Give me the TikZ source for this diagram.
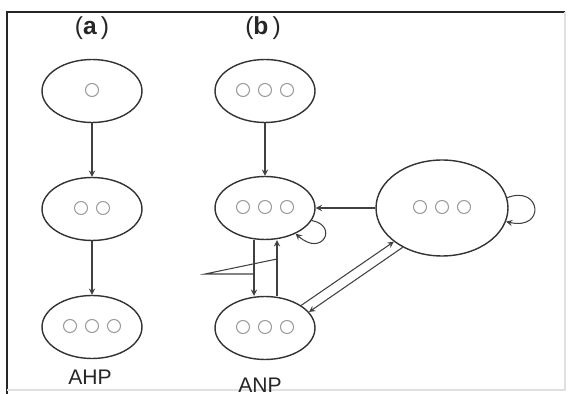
\documentclass[tikz,border=0pt]{standalone}
\usepackage{fontspec}
\setmainfont{Liberation Sans}
\usetikzlibrary{shapes,arrows,calc}

\tikzset{
  state/.style={draw=black!80, line width=0.8pt, ellipse, minimum width=2cm, minimum height=1.26cm, inner sep=0pt},
  bigstate/.style={state, minimum width=2.64cm, minimum height=1.92cm},
  link/.style={draw=black!75, line width=0.6pt},
  dot/.style={draw=black!40, line width=0.6pt},
  caption/.style={text=black!85, font=\fontsize{12}{14}\selectfont},
}

\begin{document}
\begin{tikzpicture}[>=stealth, x=0.02cm, y=-0.02cm]
  \useasboundingbox (0,0) rectangle (574,394);
  % Frame
  \draw[black!85, line width=0.8pt] (7,394) -- (7,12) -- (565,12);
  \draw[black!12, line width=0.6pt] (565,12) -- (565,390) -- (7,390);
  % Nodes
  \node[state] (A1) at (92,91) {};
  \node[state] (A2) at (92,209) {};
  \node[state] (A3) at (92,327) {};
  \node[state] (B1) at (265,91) {};
  \node[state] (B2) at (265,208) {};
  \node[state] (B3) at (265,328) {};
  \node[bigstate] (N) at (442,208) {};
  \node[caption, font=\fontsize{14}{16}\selectfont] (la) at (92,28) {(\textbf{a}\,)};
  \node[caption, font=\fontsize{14}{16}\selectfont] (lb) at (263,28) {(\textbf{b}\,)};
  \node[caption] (tA) at (90,377) {AHP};
  \node[caption] (tB) at (260,385) {ANP};
  % Elements
  \foreach \nd/\k in {A1/1, A2/2, A3/3, B1/3, B2/3, B3/3, N/3} {
    \foreach \i in {1,...,\k}
      \draw[dot] ($(\nd)+({(\i-(\k+1)/2)*22},-1)$) circle (0.13cm);
  }
  % Edges
  \draw[link,->] (A1) -- (A2);
  \draw[link,->] (A2) -- (A3);
  \draw[link,->] (B1) -- (B2);
  \draw[link,->] (N) -- (B2);
  \draw[link,->] ([xshift=-0.22cm]B2.south) -- ([xshift=-0.22cm]B3.north);
  \draw[link,->] ([xshift=0.24cm]B3.north) -- ([xshift=0.24cm]B2.south);
  \draw[link,->] (B3.32) -- (N.-145);
  \draw[link,->] (N.-135) -- (B3.20);
  \draw[link,->] (B2.-15) .. controls +(27,5) and +(27,24) .. (B2.-40);
  \draw[link,->] (N.9) .. controls +(34,-13) and +(40,9) .. (N.-12);
  % Pointer
  \coordinate (P) at (205,274);
  \coordinate (Q1) at (254,274);
  \coordinate (Q2) at (277,259);
  \draw[link] (Q1) -- (P) -- (Q2);
\end{tikzpicture}
\end{document}
